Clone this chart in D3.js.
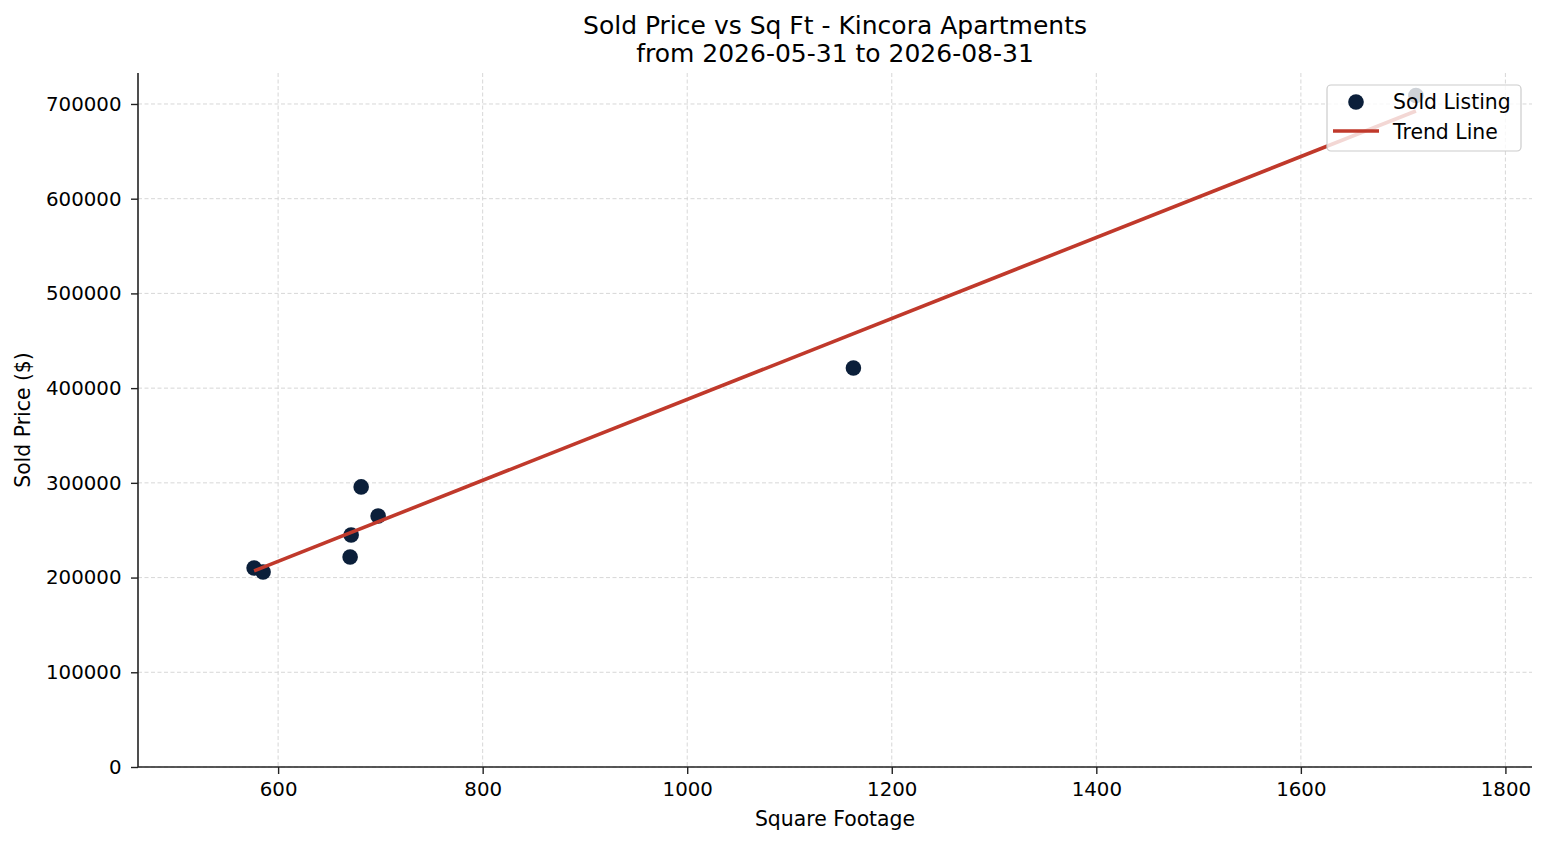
<!DOCTYPE html>
<html>
<head>
<meta charset="utf-8">
<script src="https://cdn.jsdelivr.net/npm/d3@7"></script>
<style>
  html, body { margin: 0; padding: 0; background: #ffffff; }
  svg { display: block; font-family: "DejaVu Sans", sans-serif; }
</style>
</head>
<body>
<svg id="chart" width="1547" height="845"></svg>
<script>
// ---- data ----
const sqft  = [576.5, 585.3, 670.4, 671.4, 681.2, 697.8, 1162.5, 1712.5];
const price = [210100, 205900, 221750, 245000, 295700, 265000, 421200, 709000];
const xTicks = [600, 800, 1000, 1200, 1400, 1600, 1800];
const yTicks = [0, 100000, 200000, 300000, 400000, 500000, 600000, 700000];
const titleLines = ["Sold Price vs Sq Ft - Kincora Apartments", "from 2026-05-31 to 2026-08-31"];
const xLabel = "Square Footage";
const yLabel = "Sold Price ($)";
const legendLabels = ["Sold Listing", "Trend Line"];

const svg = d3.select("#chart");
const m = { left: 138, right: 1532, top: 73, bottom: 767 };

const x = d3.scaleLinear().domain([463, 1826]).range([m.left, m.right]);
const y = d3.scaleLinear().domain([0, 732700]).range([m.bottom, m.top]);

const pointColor = "#0b1f3a";
const lineColor = "#c0392b";

// grid
const grid = svg.append("g");
grid.selectAll("line.gx").data(xTicks).enter().append("line")
  .attr("x1", d => x(d)).attr("x2", d => x(d))
  .attr("y1", m.top).attr("y2", m.bottom)
  .attr("stroke", "#d3d3d3").attr("stroke-width", 0.9).attr("stroke-dasharray", "4,2.5");
grid.selectAll("line.gy").data(yTicks).enter().append("line")
  .attr("x1", m.left).attr("x2", m.right)
  .attr("y1", d => y(d)).attr("y2", d => y(d))
  .attr("stroke", "#d3d3d3").attr("stroke-width", 0.9).attr("stroke-dasharray", "4,2.5");

// axes
const xAxis = d3.axisBottom(x).tickValues(xTicks).tickSize(7).tickPadding(8).tickFormat(d3.format("d"));
const yAxis = d3.axisLeft(y).tickValues(yTicks).tickSize(7).tickPadding(9.5).tickFormat(d3.format("d"));

const gx = svg.append("g").attr("transform", `translate(0,${m.bottom})`).call(xAxis);
const gy = svg.append("g").attr("transform", `translate(${m.left},0)`).call(yAxis);
[gx, gy].forEach(g => {
  g.select(".domain").attr("stroke", "#222").attr("stroke-width", 1.6);
  g.selectAll(".tick line").attr("stroke", "#222").attr("stroke-width", 1.4);
  g.selectAll(".tick text").attr("fill", "#000").style("font-size", "19.8px")
    .style("font-family", "DejaVu Sans, sans-serif");
});
gx.select(".domain").attr("d", `M${m.left},0H${m.right}`);
gy.select(".domain").attr("d", `M0,${m.bottom}V${m.top}`);

// regression trend line from the data
const n = sqft.length;
const mx = d3.mean(sqft), my = d3.mean(price);
let sxy = 0, sxx = 0;
for (let i = 0; i < n; i++) { sxy += (sqft[i] - mx) * (price[i] - my); sxx += (sqft[i] - mx) ** 2; }
const slope = sxy / sxx, intercept = my - slope * mx;
const trendX = d3.extent(sqft);
const trend = trendX.map(v => [v, slope * v + intercept]);

// points
svg.append("g").selectAll("circle").data(sqft).enter().append("circle")
  .attr("cx", (d) => x(d)).attr("cy", (d, i) => y(price[i]))
  .attr("r", 7.8).attr("fill", pointColor);

// trend line
svg.append("path").datum(trend)
  .attr("d", d3.line().x(d => x(d[0])).y(d => y(d[1])))
  .attr("fill", "none").attr("stroke", lineColor).attr("stroke-width", 3.6);

// title
svg.append("g").selectAll("text").data(titleLines).enter().append("text")
  .attr("x", (m.left + m.right) / 2).attr("y", (d, i) => 33.5 + i * 28)
  .attr("text-anchor", "middle").style("font-size", "25px").attr("fill", "#000")
  .text(d => d);

// axis labels
svg.append("text").attr("x", (m.left + m.right) / 2).attr("y", 826)
  .attr("text-anchor", "middle").style("font-size", "20.4px").attr("fill", "#000").text(xLabel);
svg.append("text").attr("transform", `translate(30,${(m.top + m.bottom) / 2}) rotate(-90)`)
  .attr("text-anchor", "middle").style("font-size", "20.4px").attr("fill", "#000").text(yLabel);

// legend
const lg = svg.append("g");
lg.append("rect").attr("x", 1327).attr("y", 85).attr("width", 194).attr("height", 66)
  .attr("rx", 4).attr("fill", "#ffffff").attr("fill-opacity", 0.8)
  .attr("stroke", "#cccccc").attr("stroke-width", 1.2);
lg.append("circle").attr("cx", 1356).attr("cy", 102).attr("r", 7.8).attr("fill", pointColor);
lg.append("line").attr("x1", 1333).attr("x2", 1379).attr("y1", 131).attr("y2", 131)
  .attr("stroke", lineColor).attr("stroke-width", 3.6);
lg.selectAll("text").data(legendLabels).enter().append("text")
  .attr("x", 1393).attr("y", (d, i) => 109 + i * 30)
  .style("font-size", "20.4px").attr("fill", "#000").text(d => d);
</script>
</body>
</html>
